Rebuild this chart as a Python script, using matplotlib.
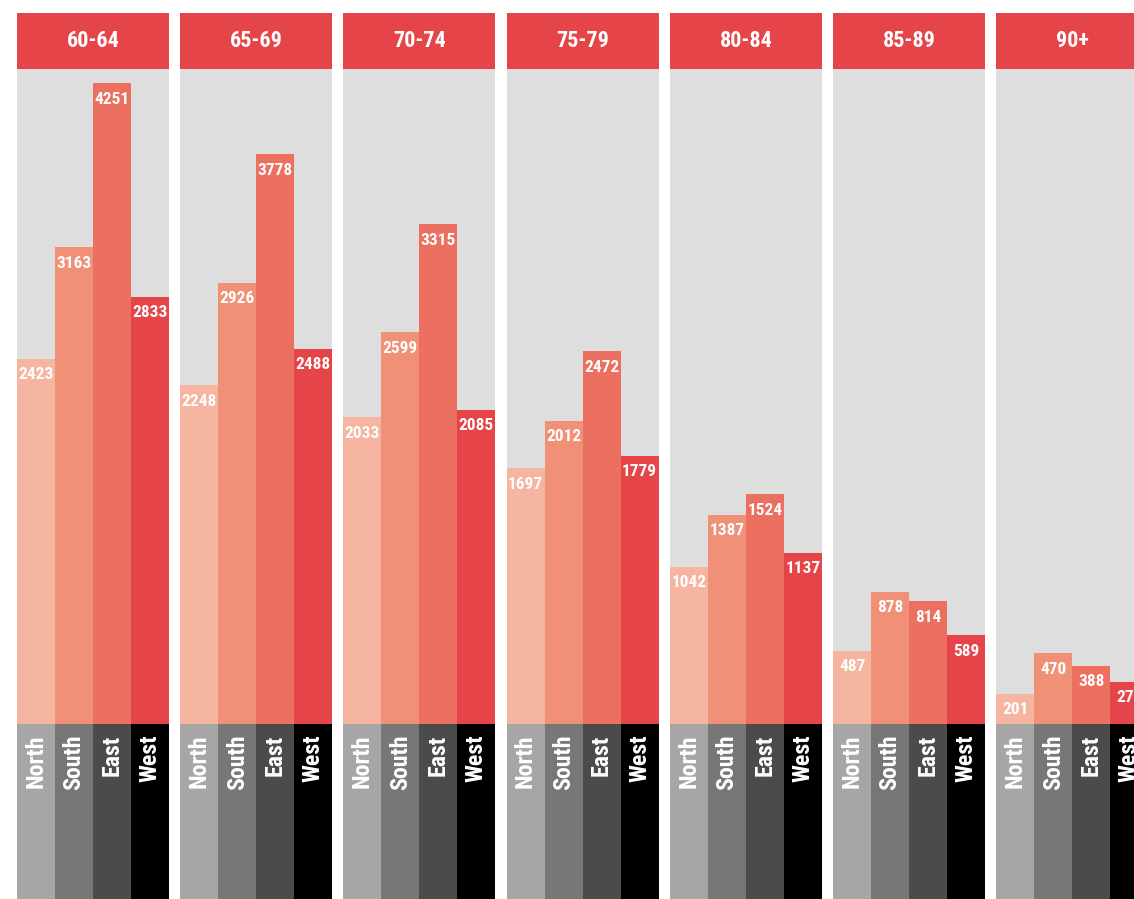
import os
import matplotlib
matplotlib.use("Agg")
import matplotlib.pyplot as plt
from matplotlib import font_manager

# age groups (panels) and regions (bars)
groups = ['60-64', '65-69', '70-74', '75-79', '80-84', '85-89', '90+']
regions = ['North', 'South', 'East', 'West']

north = [2423, 2248, 2033, 1697, 1042, 487, 201]
south = [3163, 2926, 2599, 2012, 1387, 878, 470]
east = [4251, 3778, 3315, 2472, 1524, 814, 388]
west = [2833, 2488, 2085, 1779, 1137, 589, 279]

bar_cols = ['#f5b5a0', '#f09177', '#ec705f', '#e54548']
foot_cols = ['#a6a6a6', '#777777', '#4b4b4b', '#000000']
head_col = '#e54548'
bg_col = '#dedede'

# look for a narrow bold face, the reference uses a condensed font
wanted = ['RobotoCondensed-Bold', 'LiberationSansNarrow-Bold', 'OpenSans_Condensed-Bold',
          'OpenSansCondensed-Bold', 'DejaVuSansCondensed-Bold']
files = font_manager.findSystemFonts() + font_manager.findSystemFonts(fontext='otf')
fp = None
for w in wanted:
    hit = [f for f in files if os.path.basename(f).split('.')[0] == w]
    if hit:
        font_manager.fontManager.addfont(hit[0])
        fp = font_manager.FontProperties(fname=hit[0])
        break
if fp is None:
    fp = font_manager.FontProperties(family='DejaVu Sans', weight='bold')

W, H = 1134, 899
fig = plt.figure(figsize=(W / 100, H / 100), dpi=100)
renderer = fig.canvas.get_renderer()

def fit_size(s, target_px, max_pt):
    # font size so that s is about target_px wide
    t = fig.text(0, 0, s, fontproperties=fp, fontsize=10)
    w = t.get_window_extent(renderer).width
    t.remove()
    return min(max_pt, 10 * target_px / w)

val_size = fit_size('4251', 35, 14)
head_size = fit_size('60-64', 53, 18)
reg_size = fit_size('North', 53, 18)

ymax = max(east) * 1.022

def px(x0, y0, w, h):
    # pixel box (from top-left) -> figure fraction
    return [x0 / W, 1 - (y0 + h) / H, w / W, h / H]

for i, g in enumerate(groups):
    x0 = 17 + i * 163.2
    pw = 152
    vals = [north[i], south[i], east[i], west[i]]

    # header
    hax = fig.add_axes(px(x0, 13, pw, 56))
    hax.set_facecolor(head_col)
    hax.set_xticks([]); hax.set_yticks([])
    for s in hax.spines.values():
        s.set_visible(False)
    hax.text(0.5, 0.5, g, ha='center', va='center', color='white',
             fontproperties=fp, fontsize=head_size, transform=hax.transAxes)

    # bars
    ax = fig.add_axes(px(x0, 69, pw, 655))
    ax.set_facecolor(bg_col)
    ax.bar(range(4), vals, width=1.0, color=bar_cols, linewidth=0)
    ax.set_xlim(-0.5, 3.5)
    ax.set_ylim(0, ymax)
    ax.set_xticks([]); ax.set_yticks([])
    for s in ax.spines.values():
        s.set_visible(False)
    for j, v in enumerate(vals):
        ax.annotate(str(v), (j, v), xytext=(0, -11.5), textcoords='offset points',
                    ha='center', va='center', color='white',
                    fontproperties=fp, fontsize=val_size, annotation_clip=False)

    # region labels
    fax = fig.add_axes(px(x0, 724, pw, 176))
    fax.bar(range(4), [1] * 4, width=1.0, color=foot_cols, linewidth=0)
    fax.set_xlim(-0.5, 3.5)
    fax.set_ylim(0, 1)
    fax.set_xticks([]); fax.set_yticks([])
    for s in fax.spines.values():
        s.set_visible(False)
    for j, r in enumerate(regions):
        fax.annotate(r, (j, 1), xytext=(0, -7.5), textcoords='offset points',
                     rotation=90, ha='center', va='top', color='white',
                     fontproperties=fp, fontsize=reg_size, annotation_clip=False)

fig.savefig('out.png', dpi=100, facecolor='white')
